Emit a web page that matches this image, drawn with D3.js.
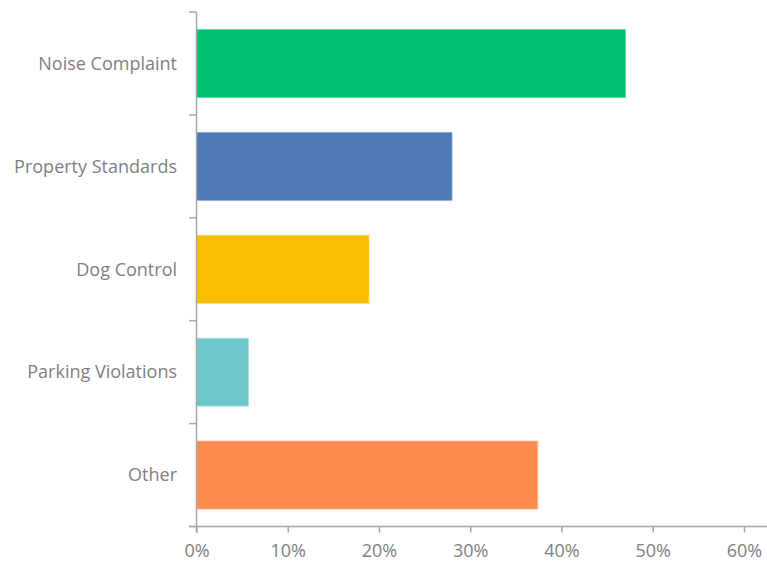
<!DOCTYPE html>
<html>
<head>
<meta charset="utf-8">
<script src="https://cdn.jsdelivr.net/npm/d3@7"></script>
<style>
  body { margin: 0; background: #fff; }
  svg text { font-family: "Open Sans", "Liberation Sans", sans-serif; fill: #7f7f7f; }
</style>
</head>
<body>
<svg id="chart" width="767" height="564"></svg>
<script>
const categories = ["Noise Complaint", "Property Standards", "Dog Control", "Parking Violations", "Other"];
const values = [0.470, 0.280, 0.189, 0.057, 0.374];
const colors = ["#00bf6f", "#4e7ab5", "#f9be00", "#6ec9cc", "#ff8c4f"];
const strokes = ["#4fd69b", "#86a5d1", "#ffd24d", "#a6e0e2", "#ffb68c"];
const xTicks = [0, 0.1, 0.2, 0.3, 0.4, 0.5, 0.6];

const svg = d3.select("#chart");
const plotLeft = 196.5, plotTop = 12, plotBottom = 526.5, plotRight = 767;

const x = d3.scaleLinear().domain([0, 0.6]).range([plotLeft, 744]);
const y = d3.scaleBand().domain(categories).range([plotTop, plotBottom]).paddingInner(0.34).paddingOuter(0.17);

// bars
svg.append("g").selectAll("rect").data(categories)
  .join("rect")
  .attr("x", x(0))
  .attr("y", d => y(d))
  .attr("width", (d, i) => x(values[i]) - x(0))
  .attr("height", y.bandwidth())
  .attr("fill", (d, i) => colors[i])
  .attr("stroke", (d, i) => strokes[i])
  .attr("stroke-width", 0.8);

// x axis
const xAxis = svg.append("g").attr("transform", `translate(0,${plotBottom})`)
  .call(d3.axisBottom(x).tickValues(xTicks).tickFormat(d3.format(".0%")).tickSizeOuter(0).tickSize(6).tickPadding(12));
xAxis.select(".domain").remove();
xAxis.append("line").attr("x1", 189).attr("x2", plotRight).attr("stroke", "#a6a6a6").attr("stroke-width", 1.5);
xAxis.selectAll(".tick line").attr("stroke", "#a6a6a6").attr("stroke-width", 1.5);
xAxis.selectAll(".tick text").attr("font-size", 18).attr("fill", "#7f7f7f");

// y axis with ticks between categories
const yAxis = svg.append("g");
yAxis.append("line").attr("x1", plotLeft).attr("x2", plotLeft).attr("y1", plotTop).attr("y2", plotBottom + 6)
  .attr("stroke", "#a6a6a6").attr("stroke-width", 1.5);
const step = (plotBottom - plotTop) / categories.length;
const boundaries = d3.range(categories.length + 1).map(i => plotTop + i * step);
yAxis.selectAll("line.tick").data(boundaries)
  .join("line").attr("class", "tick")
  .attr("x1", 189).attr("x2", plotLeft)
  .attr("y1", d => d).attr("y2", d => d)
  .attr("stroke", "#a6a6a6").attr("stroke-width", 1.5);
yAxis.selectAll("text").data(categories)
  .join("text")
  .attr("x", 177)
  .attr("y", d => y(d) + y.bandwidth() / 2)
  .attr("dy", "0.35em")
  .attr("text-anchor", "end")
  .attr("font-size", 18)
  .text(d => d);
</script>
</body>
</html>
